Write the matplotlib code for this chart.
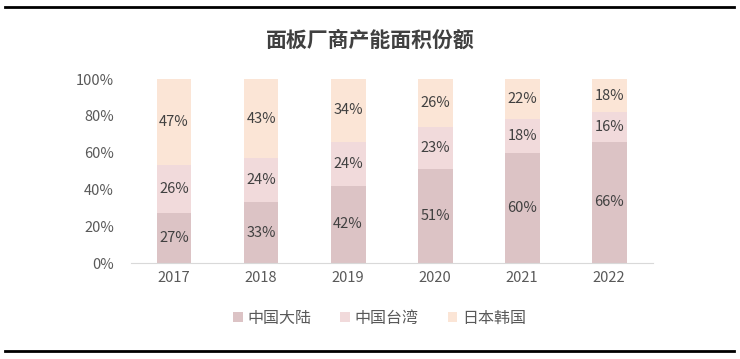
import matplotlib.pyplot as plt
import numpy as np
from matplotlib.lines import Line2D

plt.rcParams['font.family'] = ['Noto Sans CJK SC', 'DejaVu Sans']

years = ['2017', '2018', '2019', '2020', '2021', '2022']
mainland = [27, 33, 42, 51, 60, 66]
taiwan = [26, 24, 24, 23, 18, 16]
japan_korea = [47, 43, 34, 26, 22, 18]
series_names = ['中国大陆', '中国台湾', '日本韩国']
colors = ['#dcc3c5', '#f1dadb', '#fbe5d6']

fig = plt.figure(figsize=(7.4, 3.59), dpi=100)
ax = fig.add_axes([0.1764, 0.2674, 0.7056, 0.5125])

x = np.arange(len(years))
bottom = np.zeros(len(years))
for vals, c, name in zip([mainland, taiwan, japan_korea], colors, series_names):
    vals = np.array(vals)
    ax.bar(x, vals, 0.4, bottom=bottom, color=c, label=name)
    for xi, b, v in zip(x, bottom, vals):
        ax.text(xi, b + v / 2, f'{v}%', ha='center', va='center',
                fontsize=10.5, color='#404040')
    bottom += vals

ax.set_xlim(-0.5, len(years) - 0.5)
ax.set_ylim(0, 100)
ax.set_yticks(range(0, 101, 20))
ax.set_yticklabels([f'{v}%' for v in range(0, 101, 20)])
ax.set_xticks(x)
ax.set_xticklabels(years)
ax.tick_params(length=0, labelsize=10.5, colors='#595959')
ax.tick_params(axis='y', pad=12)
ax.tick_params(axis='x', pad=6)
for s in ['top', 'right', 'left']:
    ax.spines[s].set_visible(False)
ax.spines['bottom'].set_color('#d9d9d9')

fig.text(0.5, 0.888, '面板厂商产能面积份额', ha='center', va='center',
         fontsize=15, fontweight='bold', color='#404040')

leg = fig.legend(loc='center', bbox_to_anchor=(0.513, 0.113), ncol=3,
                 frameon=False, fontsize=11.5, handlelength=0.6, handleheight=0.6,
                 handletextpad=0.3, columnspacing=1.8)
for t in leg.get_texts():
    t.set_color('#595959')

fig.add_artist(Line2D([0.007, 0.992], [0.98, 0.98], color='black', lw=2))
fig.add_artist(Line2D([0.007, 0.992], [0.022, 0.022], color='black', lw=2))

fig.savefig('out.png', dpi=100)
